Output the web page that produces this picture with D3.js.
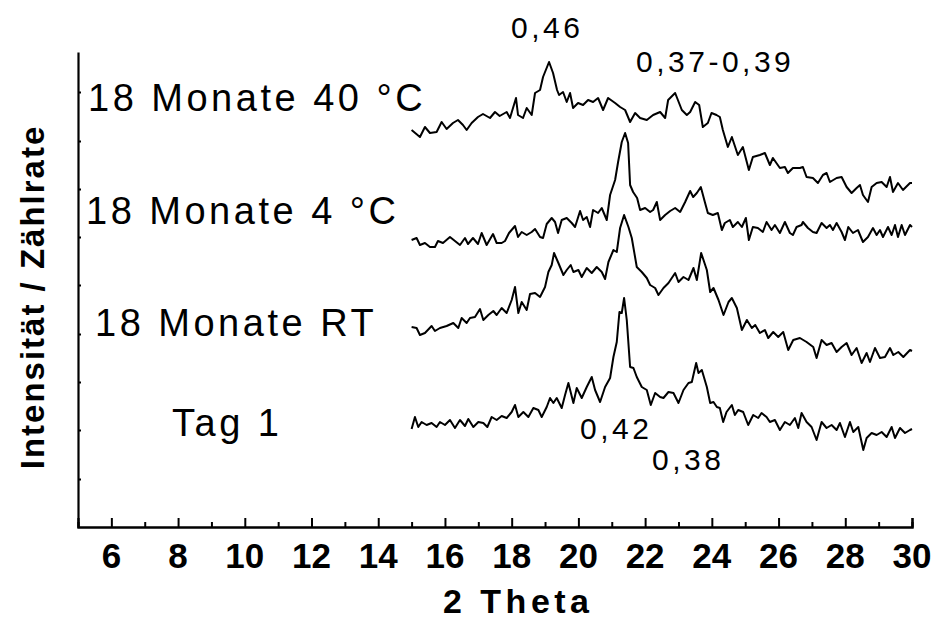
<!DOCTYPE html>
<html><head><meta charset="utf-8">
<script src="https://cdn.jsdelivr.net/npm/d3@7"></script>
<style>
html,body{margin:0;padding:0;background:#fff;}
svg{display:block;}
text{font-family:"Liberation Sans",Arial,sans-serif;fill:#000;}
</style></head>
<body>
<svg id="chart" width="935" height="621"></svg>
<script>
// ---------- data ----------
const xTicksMajor = [6, 8, 10, 12, 14, 16, 18, 20, 22, 24, 26, 28, 30];
const xTicksMinor = [7, 9, 11, 13, 15, 17, 19, 21, 23, 25, 27, 29];
const yTicks = [48, 97, 145, 193, 242, 290, 338, 386, 435];
const seriesNames = ["18 Monate 40 °C", "18 Monate 4 °C", "18 Monate RT", "Tag 1"];
const annotations = ["0,46", "0,37-0,39", "0,42", "0,38"];

// [2 Theta, intensity (arbitrary, offset stacked)]
const m18_40C = [[15.00,397],[15.25,390],[15.40,400],[15.55,394],[15.75,395],[15.90,405],[16.05,398],[16.24,404],[16.39,407],[16.54,402],[16.65,397],[16.80,404],[16.99,410],[17.14,413],[17.35,409],[17.50,415],[17.64,411],[17.85,415],[17.95,409],[18.13,429],[18.19,412],[18.34,409],[18.45,419],[18.60,412],[18.70,434],[18.85,437],[18.94,450],[19.12,465],[19.24,454],[19.36,437],[19.42,432],[19.54,435],[19.65,425],[19.75,434],[19.84,419],[19.99,424],[20.14,422],[20.29,427],[20.44,425],[20.59,429],[20.74,417],[20.89,429],[21.10,424],[21.25,420],[21.40,417],[21.55,405],[21.70,414],[21.85,409],[22.05,407],[22.24,412],[22.45,415],[22.60,409],[22.69,427],[22.90,434],[23.10,417],[23.25,412],[23.35,415],[23.50,425],[23.62,422],[23.73,400],[23.88,404],[23.99,414],[24.14,412],[24.24,410],[24.33,397],[24.48,380],[24.60,390],[24.78,372],[24.93,380],[25.11,357],[25.23,370],[25.44,372],[25.59,374],[25.74,362],[25.83,369],[26.04,359],[26.19,360],[26.28,354],[26.43,359],[26.64,359],[26.73,360],[26.84,350],[27.03,349],[27.18,344],[27.33,352],[27.44,354],[27.54,345],[27.74,349],[27.89,350],[28.04,340],[28.19,334],[28.34,339],[28.44,342],[28.53,332],[28.68,325],[28.79,340],[28.94,344],[29.09,345],[29.24,340],[29.34,350],[29.43,335],[29.58,344],[29.73,337],[29.94,344],[30.00,344]];

const m18_4C = [[15.00,287],[15.15,289],[15.25,282],[15.40,284],[15.55,280],[15.70,280],[15.79,286],[15.94,284],[16.15,290],[16.30,286],[16.45,282],[16.60,289],[16.69,283],[16.84,289],[16.99,283],[17.10,294],[17.25,282],[17.44,293],[17.55,284],[17.70,284],[17.80,286],[17.92,294],[18.10,301],[18.19,290],[18.30,295],[18.45,292],[18.60,295],[18.70,298],[18.85,290],[18.94,289],[19.05,303],[19.20,309],[19.30,305],[19.39,294],[19.50,307],[19.65,309],[19.80,304],[19.90,300],[20.05,316],[20.14,307],[20.25,310],[20.35,300],[20.44,317],[20.59,314],[20.70,319],[20.85,307],[20.95,332],[21.10,347],[21.19,365],[21.30,385],[21.40,394],[21.49,384],[21.55,342],[21.64,335],[21.76,329],[21.85,317],[22.00,319],[22.15,315],[22.24,317],[22.35,325],[22.45,307],[22.60,312],[22.75,316],[22.90,319],[23.05,315],[23.20,325],[23.35,336],[23.44,330],[23.55,334],[23.67,340],[23.79,325],[23.88,314],[24.03,312],[24.18,314],[24.30,297],[24.39,304],[24.54,307],[24.63,300],[24.78,305],[24.90,300],[25.02,309],[25.11,287],[25.23,300],[25.38,299],[25.53,295],[25.64,305],[25.79,297],[25.89,302],[26.04,294],[26.19,305],[26.34,294],[26.43,292],[26.54,300],[26.69,302],[26.73,305],[26.88,299],[27.03,295],[27.14,294],[27.29,304],[27.44,299],[27.54,302],[27.63,297],[27.74,304],[27.89,295],[27.99,287],[28.09,300],[28.23,294],[28.38,297],[28.53,285],[28.68,290],[28.83,299],[28.94,292],[29.04,297],[29.13,290],[29.28,300],[29.39,292],[29.49,302],[29.58,290],[29.69,302],[29.79,292],[29.94,302],[30.00,300]];

const m18_RT = [[15.00,200],[15.15,199],[15.25,192],[15.40,194],[15.60,201],[15.70,196],[15.85,199],[16.05,201],[16.25,204],[16.40,199],[16.50,209],[16.65,204],[16.75,209],[16.90,210],[17.05,218],[17.15,207],[17.30,212],[17.45,216],[17.55,212],[17.70,219],[17.85,214],[18.00,227],[18.10,240],[18.20,214],[18.30,225],[18.45,217],[18.55,233],[18.70,234],[18.85,230],[19.00,240],[19.10,255],[19.20,262],[19.27,274],[19.40,264],[19.55,252],[19.65,257],[19.77,262],[19.85,255],[20.00,257],[20.10,250],[20.25,259],[20.40,254],[20.55,260],[20.70,255],[20.80,248],[20.90,265],[21.05,277],[21.15,275],[21.25,299],[21.37,312],[21.50,300],[21.60,289],[21.75,260],[21.90,255],[22.05,249],[22.15,242],[22.30,239],[22.40,232],[22.55,239],[22.70,244],[22.90,254],[23.00,245],[23.15,250],[23.30,247],[23.45,259],[23.55,247],[23.68,274],[23.85,257],[23.95,235],[24.05,239],[24.20,227],[24.35,212],[24.50,225],[24.60,229],[24.75,219],[24.90,197],[25.05,207],[25.20,199],[25.30,202],[25.44,194],[25.59,197],[25.69,189],[25.84,195],[25.99,190],[26.14,195],[26.29,177],[26.44,187],[26.64,189],[26.84,185],[27.04,180],[27.14,169],[27.29,187],[27.44,182],[27.59,184],[27.74,175],[27.89,180],[28.04,184],[28.19,172],[28.34,179],[28.49,164],[28.64,174],[28.74,165],[28.89,179],[29.04,169],[29.19,170],[29.34,179],[29.44,172],[29.59,175],[29.74,170],[29.94,177],[30.00,176]];

const tag1 = [[15.00,98],[15.10,110],[15.20,100],[15.30,105],[15.45,102],[15.60,104],[15.75,100],[15.85,105],[16.00,102],[16.15,107],[16.30,99],[16.45,107],[16.60,101],[16.70,108],[16.85,100],[17.00,105],[17.15,104],[17.27,100],[17.40,110],[17.55,107],[17.70,111],[17.85,109],[18.00,115],[18.10,122],[18.20,110],[18.35,115],[18.50,110],[18.65,119],[18.80,117],[18.90,110],[19.05,120],[19.15,129],[19.25,124],[19.35,129],[19.50,119],[19.60,132],[19.70,144],[19.85,124],[19.95,139],[20.10,129],[20.25,140],[20.40,150],[20.50,137],[20.65,125],[20.80,140],[20.95,149],[21.05,170],[21.15,185],[21.23,215],[21.30,214],[21.37,229],[21.45,207],[21.55,160],[21.65,159],[21.75,150],[21.90,140],[22.05,137],[22.17,122],[22.30,134],[22.45,130],[22.55,129],[22.70,135],[22.85,134],[23.00,124],[23.15,137],[23.30,144],[23.40,145],[23.53,164],[23.60,154],[23.70,157],[23.85,140],[23.95,124],[24.05,125],[24.15,120],[24.24,119],[24.34,105],[24.44,115],[24.60,122],[24.69,112],[24.79,117],[24.94,115],[25.09,102],[25.24,112],[25.39,109],[25.49,114],[25.64,110],[25.74,105],[25.89,107],[26.04,97],[26.19,105],[26.34,102],[26.49,109],[26.59,99],[26.69,114],[26.84,105],[26.99,100],[27.14,87],[27.29,105],[27.44,99],[27.59,102],[27.74,97],[27.84,104],[27.99,90],[28.14,105],[28.24,95],[28.39,100],[28.54,77],[28.64,89],[28.79,94],[28.94,92],[29.09,95],[29.24,90],[29.39,100],[29.49,89],[29.64,99],[29.79,94],[29.94,97],[30.00,98]];

const allSeries = [m18_40C, m18_4C, m18_RT, tag1];

// ---------- layout ----------
const svg = d3.select("#chart");
const x = d3.scaleLinear().domain([5, 30]).range([78, 912]);
const y = d3.scaleLinear().domain([0, 475]).range([527, 52]);

// curves
const line = d3.line().x(d => x(d[0])).y(d => y(d[1]));
svg.append("g").selectAll("path").data(allSeries).join("path")
  .attr("d", line).attr("fill", "none").attr("stroke", "#000")
  .attr("stroke-width", 2).attr("stroke-linejoin", "round");

// x axis (ticks inside)
const xAxisMajor = d3.axisTop(x).tickValues(xTicksMajor).tickSize(9).tickFormat("");
const xAxisMinor = d3.axisTop(x).tickValues(xTicksMinor).tickSize(5).tickFormat("");
const gx = svg.append("g").attr("transform", "translate(0,527)");
gx.call(xAxisMajor);
gx.append("g").call(xAxisMinor);
gx.selectAll("path.domain").attr("stroke-width", 2.2).attr("stroke", "#000");
gx.selectAll(".tick line").attr("stroke-width", 2).attr("stroke", "#000");
svg.append("g").selectAll("text").data(xTicksMajor).join("text")
  .attr("x", d => x(d)).attr("y", 568).attr("text-anchor", "middle")
  .style("font-size", "35px").style("font-weight", "bold").text(d => d);

// y axis (ticks inside, no labels)
const gy = svg.append("g").attr("transform", "translate(78,0)");
gy.call(d3.axisRight(y).tickValues(yTicks).tickSize(3).tickSizeOuter(0).tickFormat(""));
gy.selectAll("path.domain").attr("stroke-width", 2.2).attr("stroke", "#000");
gy.selectAll(".tick line").attr("stroke-width", 2).attr("stroke", "#000");

// axis titles
svg.append("text").attr("x", 443).attr("y", 613)
  .style("font-size", "34px").style("font-weight", "bold").style("letter-spacing", "4.5px")
  .text("2 Theta");
svg.append("text").attr("transform", "translate(44,297) rotate(-90)")
  .attr("text-anchor", "middle")
  .style("font-size", "33px").style("font-weight", "bold").style("letter-spacing", "2px")
  .text("Intensität / Zählrate");

// series labels
const labelPos = [[88, 111], [86, 224], [95, 336], [172, 436]];
svg.append("g").selectAll("text").data(seriesNames).join("text")
  .attr("x", (d, i) => labelPos[i][0]).attr("y", (d, i) => labelPos[i][1])
  .style("font-size", "38px").style("letter-spacing", "3.5px").text(d => d);

// peak annotations
const annPos = [[511, 38], [636, 72], [580, 439], [652, 470]];
svg.append("g").selectAll("text").data(annotations).join("text")
  .attr("x", (d, i) => annPos[i][0]).attr("y", (d, i) => annPos[i][1])
  .style("font-size", "30px").style("letter-spacing", "3.5px").text(d => d);
</script>
</body></html>
